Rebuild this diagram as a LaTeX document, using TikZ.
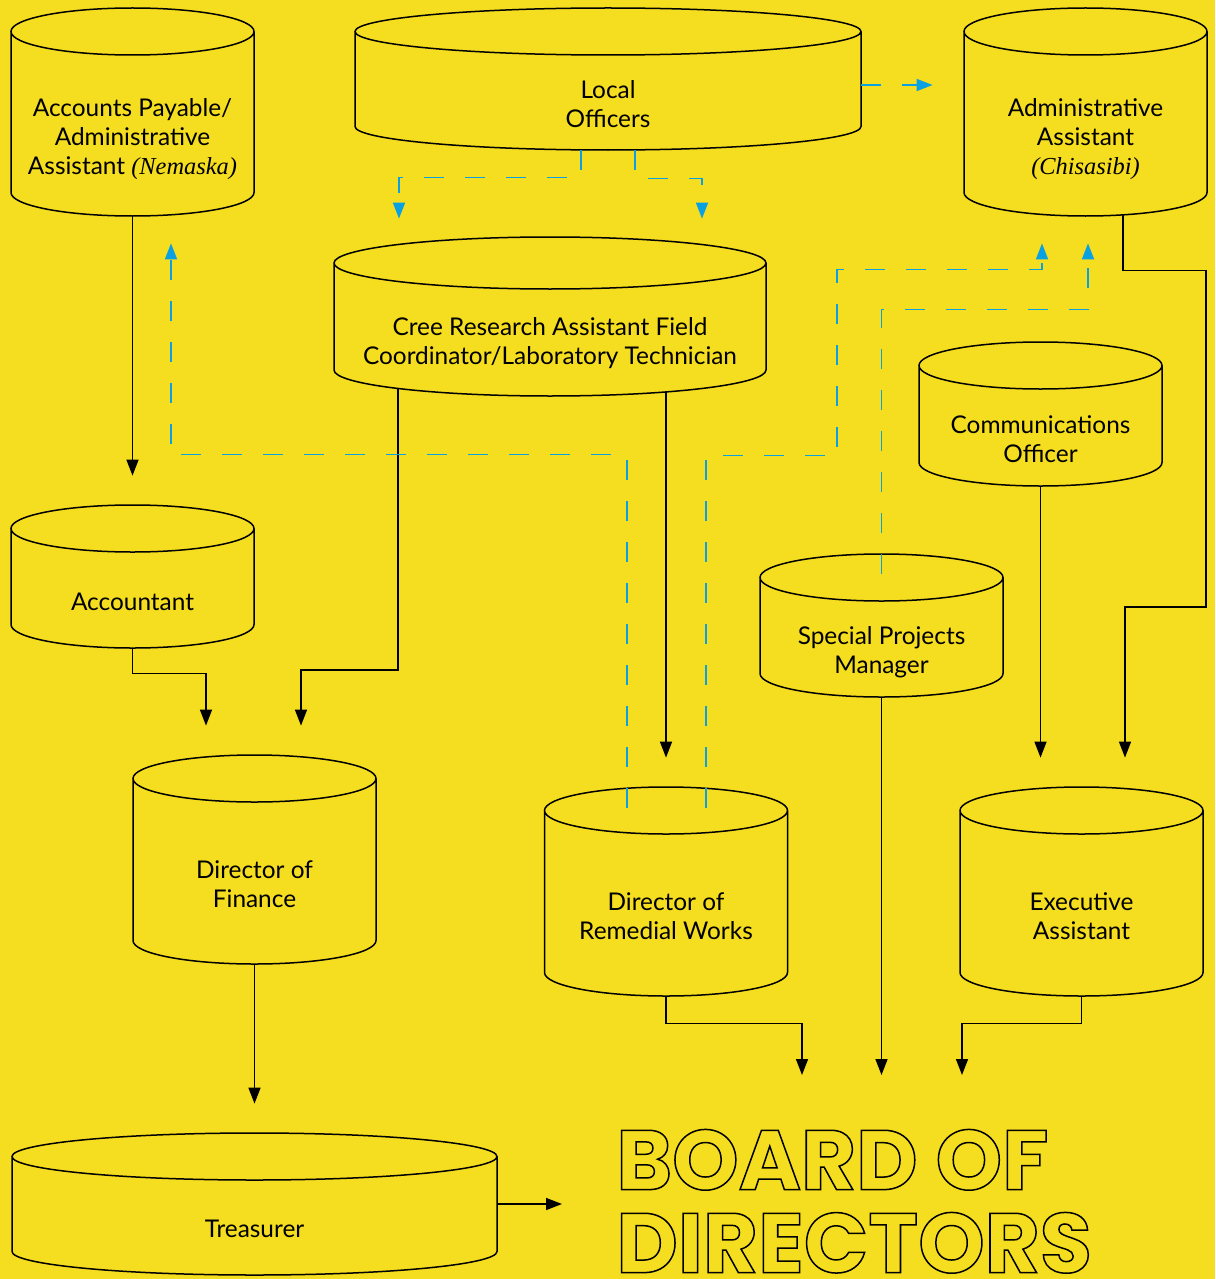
\documentclass[tikz,border=0pt]{standalone}
\usepackage{fontspec}
\setmainfont{Lato}
\newfontfamily\italfont{Liberation Serif}
\newfontfamily\boardfont{Poppins}
\usetikzlibrary{arrows.meta}

\definecolor{bgyellow}{HTML}{F5DD20}
\definecolor{dashblue}{HTML}{0AA1E2}

% text sits in the body, below the top ellipse
\newcommand\cyltext[1]{\raisebox{-17pt}[0pt][0pt]{\begin{tabular}{@{}c@{}}#1\end{tabular}}}
% name, x, y, width, height, ellipse radius (px), text
\newcommand\cylnode[7]{%
  \filldraw[cylline] (#2-#4/2,#3-#5/2+#6) -- (#2-#4/2,#3+#5/2-#6)
    arc[start angle=180,end angle=0,x radius=#4/2,y radius=#6]
    -- (#2+#4/2,#3-#5/2+#6) arc[start angle=0,end angle=-180,x radius=#4/2,y radius=#6] -- cycle
    (#2,#3-#5/2+#6) ellipse[x radius=#4/2,y radius=#6];
  \node[cyltxt,minimum width=#4*0.5pt,minimum height=#5*0.5pt] (#1) at (#2,#3) {\cyltext{#7}};}

\begin{document}
\begin{tikzpicture}[x=0.5pt,y=-0.5pt,>={Triangle[width=6pt,length=8pt]},
    cylline/.style={draw=black,fill=bgyellow,line width=0.75pt},
    cyltxt/.style={rectangle,inner sep=0pt,font=\fontsize{12.2pt}{14.5pt}\selectfont},
    conn/.style={->,line width=0.75pt,shorten >=14.5pt},
    toboard/.style={conn,shorten >=27pt},
    dashconn/.style={->,draw=dashblue,line width=0.85pt,dash pattern=on 10pt off 10.5pt}]
  \path[use as bounding box,fill=bgyellow] (0,0) rectangle (1215,1279);

  \cylnode{ap}{132.5}{112}{243}{208}{23.5}{Accounts Payable/\\Administrative\\Assistant {\italfont\itshape(Nemaska)}}
  \cylnode{lo}{608}{79}{506}{142}{23.5}{Local\\Officers}
  \cylnode{aa}{1085.5}{112}{243}{208}{23.5}{Administrative\\Assistant\\{\italfont\itshape(Chisasibi)}}
  \cylnode{cree}{550}{316.5}{432}{159}{26}{Cree Research Assistant Field\\Coordinator/Laboratory Technician}
  \cylnode{co}{1040.5}{414}{243}{144}{23.5}{Communications\\Officer}
  \cylnode{acc}{132.5}{576.5}{243}{143}{23.5}{Accountant}
  \cylnode{spm}{881.5}{625.5}{243}{143}{23.5}{Special Projects\\Manager}
  \cylnode{dof}{254.5}{859.5}{243}{209}{23.5}{Director of\\Finance}
  \cylnode{drw}{666}{891.5}{243}{209}{23.5}{Director of\\Remedial Works}
  \cylnode{ea}{1081.5}{891.5}{243}{209}{23.5}{Executive\\Assistant}
  \cylnode{tr}{254.5}{1204}{485}{142}{23.5}{Treasurer}
  \node[anchor=north west,inner sep=0pt,align=left,
    font=\boardfont\bfseries\fontsize{42.3pt}{41.5pt}\selectfont] (board) at (616,1129)
    {\special{pdf:literal direct 1 Tr 0.75 w}BOARD OF\\DIRECTORS\special{pdf:literal direct 0 Tr}};

  % reporting lines
  \draw[conn] (ap.south) -- (acc.north);
  \draw[conn] (acc.south) -- ++(0,25) -| ([xshift=-24.25pt]dof.north);
  \draw[conn] ([xshift=-76pt,yshift=3.75pt]cree.south) -- ++(0,281) -| ([xshift=23.25pt]dof.north);
  \draw[conn] ([xshift=58pt,yshift=2pt]cree.south) -- (drw.north);
  \draw[conn] ([xshift=18.75pt,yshift=0.5pt]aa.south) -- ++(0,55) -| (1206,607) -| ([xshift=21.75pt]ea.north);
  \draw[conn] (co.south) -- (co.south |- ea.north);
  \draw[conn] (dof.south) -- (tr.north);
  \draw[toboard] (tr.east) -- (tr.east -| board.west);
  \draw[toboard] (drw.south) -- ++(0,27) -| ([xshift=93pt]board.north west);
  \draw[toboard] (spm.south) -- (spm.south |- board.north);
  \draw[toboard] (ea.south) -- ++(0,27) -| ([xshift=173pt]board.north west);

  % dotted lines
  \draw[dashconn,shorten >=15.5pt] ([yshift=-3pt]lo.east) -- ([yshift=-3pt]lo.east -| aa.west);
  \draw[dashconn,shorten >=9pt] ([xshift=-13.5pt]lo.south) -- ++(0,27) -| ([xshift=-75.5pt]cree.north);
  \draw[dashconn,shorten >=9pt] ([xshift=13.5pt]lo.south) -- ++(0,28) -| ([xshift=76pt]cree.north);
  \draw[dashconn,shorten >=13.5pt] ([xshift=-19.5pt,yshift=-10.5pt]drw.north) -- ++(0,-353)
    -| ([xshift=19.25pt]ap.south);
  \draw[dashconn,shorten >=13.5pt] ([xshift=20pt,yshift=-10.5pt]drw.north) -- ++(0,-352)
    -- ++(131,0) -- ++(0,-186) -| ([xshift=-21.75pt]aa.south);
  \draw[dashconn,shorten >=13.5pt] ([yshift=-10pt]spm.north) -- ++(0,-264) -| ([xshift=1.25pt]aa.south);
\end{tikzpicture}
\end{document}
